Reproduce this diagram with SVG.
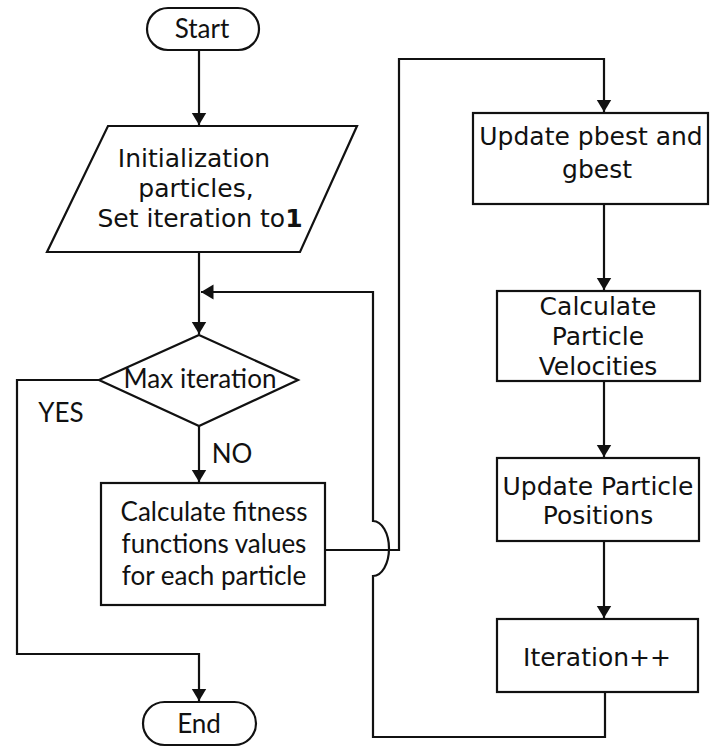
<svg xmlns="http://www.w3.org/2000/svg" width="710" height="749" viewBox="0 0 710 749">
<style>
.shape{fill:#fff;stroke:#111;stroke-width:2.2}
.line{fill:none;stroke:#111;stroke-width:2.2}
.v{font-family:"DejaVu Sans",Verdana,sans-serif;font-size:25px;fill:#111;text-anchor:middle}
.c{font-family:Lato,"Open Sans",sans-serif;font-size:26px;fill:#111;text-anchor:middle}
</style>
<defs>
<marker id="arr" markerUnits="userSpaceOnUse" markerWidth="13" markerHeight="16" refX="12.5" refY="8" orient="auto" viewBox="0 0 13 16">
<path d="M0,0.5 L12.5,8 L0,15.5 z" fill="#111"/>
</marker>
</defs>
<rect width="710" height="749" fill="#fff"/>
<g id="connectors">
<path class="line" d="M199,50 V125" marker-end="url(#arr)"/>
<path class="line" d="M199,252 V334" marker-end="url(#arr)"/>
<path class="line" d="M199,426 V482" marker-end="url(#arr)"/>
<path class="line" d="M99,380 H17 V654 H199 V701" marker-end="url(#arr)"/>
<path class="line" d="M325,550 H399 V59 H604 V112" marker-end="url(#arr)"/>
<path class="line" d="M604,204 V290" marker-end="url(#arr)"/>
<path class="line" d="M604,381 V457" marker-end="url(#arr)"/>
<path class="line" d="M604,541 V618" marker-end="url(#arr)"/>
<path class="line" d="M605,692 V737 H373 V576 A16 27.5 0 0 0 373,521 V292 H201" marker-end="url(#arr)"/>
</g>
<g id="start">
<rect class="shape" x="147" y="8" width="112" height="42" rx="21"/>
<text class="c" x="202" y="38">Start</text>
</g>
<g id="init">
<polygon class="shape" points="108,126 357,126 300,252 47,252"/>
<text class="v" x="194" y="167">Initialization</text>
<text class="v" x="196" y="197">particles,</text>
<text class="v" x="200" y="227">Set iteration to<tspan font-weight="bold">1</tspan></text>
</g>
<g id="decision">
<polygon class="shape" points="199,335 298,380 199,426 99,380"/>
<text class="c" x="200" y="388">Max iteration</text>
</g>
<text class="c" x="61" y="422">YES</text>
<text class="c" x="232" y="463">NO</text>
<g id="fitness">
<rect class="shape" x="101" y="483" width="224" height="122"/>
<text class="c" x="214" y="521">Calculate fitness</text>
<text class="c" x="214" y="553">functions values</text>
<text class="c" x="214" y="585">for each particle</text>
</g>
<g id="pbest">
<rect class="shape" x="473" y="113" width="235" height="91"/>
<text class="v" x="591" y="145">Update pbest and</text>
<text class="v" x="597" y="178">gbest</text>
</g>
<g id="velocities">
<rect class="shape" x="497" y="291" width="203" height="90"/>
<text class="v" x="598" y="315">Calculate</text>
<text class="v" x="598" y="345">Particle</text>
<text class="v" x="598" y="375">Velocities</text>
</g>
<g id="positions">
<rect class="shape" x="497" y="458" width="202" height="83"/>
<text class="v" x="598" y="495">Update Particle</text>
<text class="v" x="598" y="524">Positions</text>
</g>
<g id="iteration">
<rect class="shape" x="497" y="619" width="201" height="73"/>
<text class="v" x="597" y="666">Iteration++</text>
</g>
<g id="end">
<rect class="shape" x="143" y="702" width="113" height="43" rx="21.5"/>
<text class="c" x="199" y="733">End</text>
</g>
</svg>
